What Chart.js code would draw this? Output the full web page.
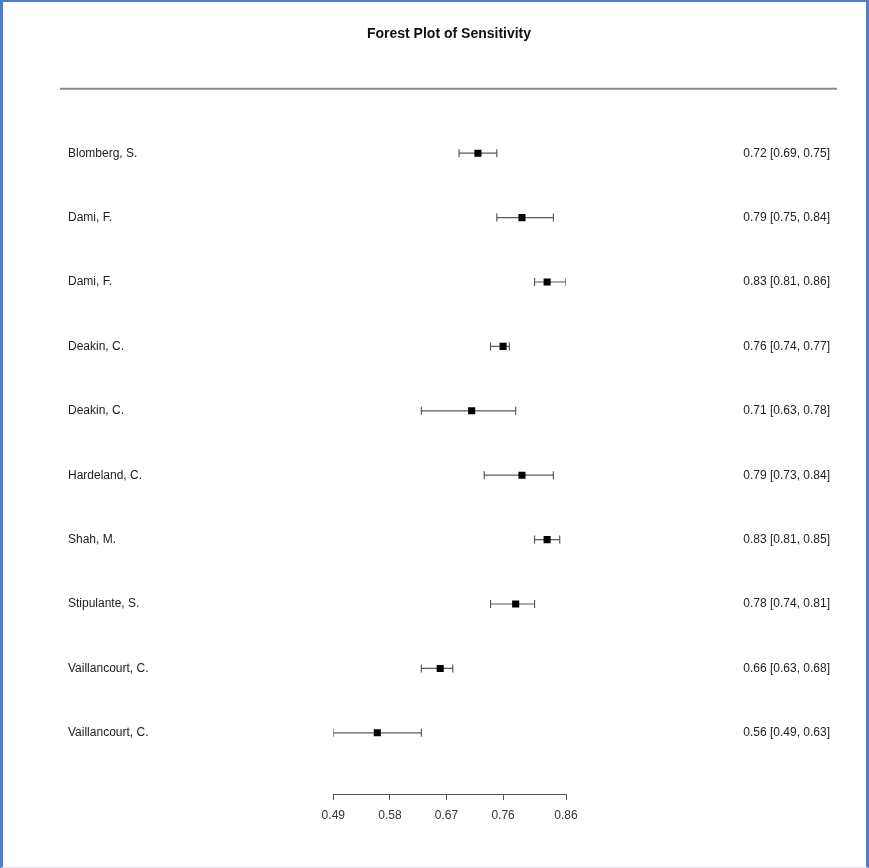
<!DOCTYPE html>
<html>
<head>
<meta charset="utf-8">
<script src="https://cdn.jsdelivr.net/npm/chart.js@4/dist/chart.umd.min.js"></script>
<style>
  html, body { margin: 0; padding: 0; background: #ffffff; }
  #wrap { position: relative; width: 869px; height: 868px; overflow: hidden; }
  #frame {
    position: absolute; left: 0; top: 0; width: 869px; height: 868px;
    box-sizing: border-box; pointer-events: none;
    border-left: 3px solid #4f7bd2; border-right: 3px solid #4f7bd2;
    border-top: 2px solid #4f7bd2; border-bottom: 1px solid #e4e4f2;
  }
</style>
</head>
<body>
<div id="wrap">
  <canvas id="chart" width="869" height="868"></canvas>
  <div id="frame"></div>
</div>
<script>
// Studies and their sensitivity estimates with 95% confidence limits
const studies = [
  'Blomberg, S.', 'Dami, F.', 'Dami, F.', 'Deakin, C.', 'Deakin, C.',
  'Hardeland, C.', 'Shah, M.', 'Stipulante, S.', 'Vaillancourt, C.', 'Vaillancourt, C.'
];
const sensitivity = [0.72, 0.79, 0.83, 0.76, 0.71, 0.79, 0.83, 0.78, 0.66, 0.56];
const lowerCI     = [0.69, 0.75, 0.81, 0.74, 0.63, 0.73, 0.81, 0.74, 0.63, 0.49];
const upperCI     = [0.75, 0.84, 0.86, 0.77, 0.78, 0.84, 0.85, 0.81, 0.68, 0.63];
const xTicks      = [0.49, 0.58, 0.67, 0.76, 0.86];

const rows = studies.map((_, i) => i);
const ciText = rows.map(i =>
  `${sensitivity[i].toFixed(2)} [${lowerCI[i].toFixed(2)}, ${upperCI[i].toFixed(2)}]`);

const FONT = "'Liberation Sans', Arial, Helvetica, sans-serif";
const whiskerColor = '#5a5a5a';

// one whisker (line with end caps) per study
const ciDatasets = rows.map(i => ({
  type: 'line',
  data: [{ x: lowerCI[i], y: i }, { x: upperCI[i], y: i }],
  borderColor: whiskerColor,
  borderWidth: 1.2,
  pointStyle: 'line',
  pointRotation: 90,
  pointRadius: 4,
  pointBorderColor: whiskerColor,
  pointBorderWidth: 1.2,
  pointBackgroundColor: whiskerColor,
  order: 2
}));

const estimateDataset = {
  type: 'scatter',
  data: rows.map(i => ({ x: sensitivity[i], y: i })),
  pointStyle: 'rect',
  pointRadius: 5,
  backgroundColor: '#000000',
  borderColor: '#000000',
  borderWidth: 0,
  order: 1
};

// rule under the title, spanning the label columns
const headerRule = {
  id: 'headerRule',
  afterDraw(chart) {
    const { ctx, chartArea } = chart;
    const left = chart.scales.y.left - 8;
    const right = chart.scales.yRight.right + 7;
    ctx.save();
    ctx.strokeStyle = '#8c8c8c';
    ctx.lineWidth = 2;
    ctx.beginPath();
    ctx.moveTo(left, chartArea.top);
    ctx.lineTo(right, chartArea.top);
    ctx.stroke();
    ctx.restore();
  }
};

const rowTicks = scale => { scale.ticks = rows.map(v => ({ value: v })); };

new Chart(document.getElementById('chart'), {
  type: 'scatter',
  data: { datasets: [...ciDatasets, estimateDataset] },
  options: {
    responsive: false,
    animation: false,
    devicePixelRatio: 1,
    events: [],
    layout: { padding: { left: 68, right: 39, top: 0, bottom: 34 } },
    plugins: {
      legend: { display: false },
      tooltip: { enabled: false },
      title: {
        display: true,
        text: 'Forest Plot of Sensitivity',
        color: '#111111',
        font: { family: FONT, size: 14, weight: 'bold' },
        padding: { top: 26, bottom: 46 }
      }
    },
    scales: {
      x: {
        type: 'linear',
        min: 0.49,
        max: 0.86,
        afterBuildTicks: s => { s.ticks = xTicks.map(v => ({ value: v })); },
        afterFit: s => { s.height = 40; },
        grid: { drawOnChartArea: false, drawTicks: true, tickLength: 6, color: '#555555', lineWidth: 1 },
        border: { display: true, color: '#555555', width: 1 },
        ticks: {
          padding: 8,
          color: '#333333',
          font: { family: FONT, size: 12 },
          maxRotation: 0,
          autoSkip: false,
          callback: v => Number(v).toFixed(2)
        }
      },
      y: {
        type: 'linear',
        position: 'left',
        reverse: true,
        min: -1,
        max: 9.95,
        afterBuildTicks: rowTicks,
        afterFit: s => { s.width = 265.3; },
        grid: { display: false },
        border: { display: false },
        ticks: {
          crossAlign: 'far',
          color: '#222222',
          font: { family: FONT, size: 12 },
          autoSkip: false,
          callback: v => studies[v]
        }
      },
      yRight: {
        type: 'linear',
        position: 'right',
        reverse: true,
        min: -1,
        max: 9.95,
        afterBuildTicks: rowTicks,
        afterFit: s => { s.width = 264; },
        grid: { display: false },
        border: { display: false },
        ticks: {
          crossAlign: 'far',
          color: '#222222',
          font: { family: FONT, size: 12 },
          autoSkip: false,
          callback: v => ciText[v]
        }
      }
    }
  },
  plugins: [headerRule]
});
</script>
</body>
</html>
